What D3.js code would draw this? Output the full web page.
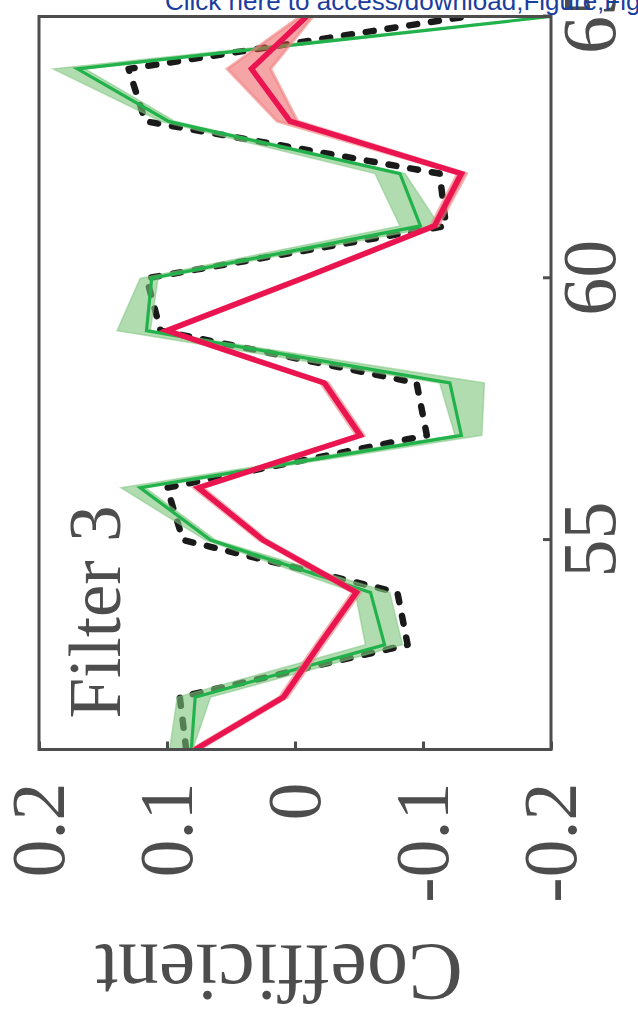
<!DOCTYPE html>
<html>
<head>
<meta charset="utf-8">
<script src="https://cdnjs.cloudflare.com/ajax/libs/d3/7.8.5/d3.min.js"></script>
<style>
  html, body { margin: 0; padding: 0; background: #fff; overflow: hidden; }
  svg { display: block; }
</style>
</head>
<body>
<svg id="chart" width="638" height="1014"></svg>
<script>
// filter taps shown in the panel
var positions = [51, 52, 53, 54, 55, 56, 57, 58, 59, 60, 61, 62, 63, 64, 65];

// reference filter (black dashed)
var target = [0.085, 0.090, -0.088, -0.080, 0.0875, 0.100, -0.103, -0.095, 0.105, 0.116, -0.118, -0.113, 0.117, 0.130, -0.134];

// green estimate: mean and spread of the runs
var greenMean = [0.081, 0.078, -0.070, -0.059, 0.066, 0.121, -0.130, -0.121, 0.116, 0.112, -0.098, -0.082, 0.099, 0.170, -0.200];
var greenHi = [0.098, 0.092, -0.055, -0.047, 0.070, 0.136, -0.125, -0.113, 0.139, 0.121, -0.082, -0.0625, 0.105, 0.189, -0.198];
var greenLo = [0.080, 0.066, -0.084, -0.074, 0.062, 0.117, -0.146, -0.148, 0.113, 0.107, -0.113, -0.086, 0.094, 0.164, -0.202];

// red estimate: mean and spread of the runs
var redMean = [0.078, 0.009, -0.019, -0.048, 0.025, 0.0755, -0.051, -0.023, 0.100, -0.006, -0.109, -0.130, 0.004, 0.034, -0.009];
var redHi = [0.081, 0.012, -0.016, -0.045, 0.028, 0.079, -0.048, -0.020, 0.103, -0.003, -0.106, -0.127, 0.014, 0.053, -0.004];
var redLo = [0.075, 0.006, -0.022, -0.051, 0.022, 0.072, -0.054, -0.026, 0.097, -0.009, -0.112, -0.134, -0.002, 0.019, -0.014];

var xTicks = [55, 60, 65];
var yTicks = [-0.2, -0.1, 0, 0.1, 0.2];
var yTickLabels = ["-0.2", "-0.1", "0", "0.1", "0.2"];
var panelTitle = "Filter 3";
var yTitle = "Coefficient";
var watermark = "Click here to access/download;Figure;Fig3.pdf";

var FONT = "'Liberation Serif', 'Times New Roman', serif";
var INK = "#4d4d4d";

var svg = d3.select("#chart");

// the whole figure is laid out upright (1014 wide, 638 high) and turned 90deg ccw
var fig = svg.append("g").attr("transform", "translate(0,1014) rotate(-90)");

var x = d3.scaleLinear().domain([51, 65]).range([264.5, 997.5]);
var y = d3.scaleLinear().domain([-0.2, 0.2]).range([551, 39]);

fig.append("clipPath").attr("id", "plotclip")
    .append("rect")
    .attr("x", x(51)).attr("y", y(0.2))
    .attr("width", x(65) - x(51)).attr("height", y(-0.2) - y(0.2));

var plot = fig.append("g").attr("clip-path", "url(#plotclip)");

function lineOf(vals) {
    return d3.line()
        .x(function (d, i) { return x(positions[i]); })
        .y(function (d) { return y(d); })(vals);
}

function bandOf(hi, lo) {
    return d3.area()
        .x(function (d, i) { return x(positions[i]); })
        .y0(function (d, i) { return y(lo[i]); })
        .y1(function (d, i) { return y(hi[i]); })(hi);
}

// reference (black dashed) goes below the bands
plot.append("path")
    .attr("d", lineOf(target))
    .attr("fill", "none")
    .attr("stroke", "#1a1a1a")
    .attr("stroke-width", 6.5)
    .attr("stroke-dasharray", "8,14")
    .attr("stroke-linecap", "round")
    .attr("stroke-linejoin", "round");

// green band + line
plot.append("path")
    .attr("d", bandOf(greenHi, greenLo))
    .attr("fill", "#7cc47c")
    .attr("fill-opacity", 0.6)
    .attr("stroke", "#7cc47c")
    .attr("stroke-opacity", 0.5)
    .attr("stroke-width", 1.5);

plot.append("path")
    .attr("d", lineOf(greenMean))
    .attr("fill", "none")
    .attr("stroke", "#21b24b")
    .attr("stroke-width", 3.2)
    .attr("stroke-linejoin", "miter");

// red band + line
plot.append("path")
    .attr("d", bandOf(redHi, redLo))
    .attr("fill", "#ec4c4c")
    .attr("fill-opacity", 0.5)
    .attr("stroke", "#f08080")
    .attr("stroke-opacity", 0.6)
    .attr("stroke-width", 3);

plot.append("path")
    .attr("d", lineOf(redMean))
    .attr("fill", "none")
    .attr("stroke", "#ea1450")
    .attr("stroke-width", 5.5)
    .attr("stroke-linejoin", "miter");

// axes (ticks inward, labels outside)
var xAxis = d3.axisBottom(x)
    .tickValues(xTicks)
    .tickSizeInner(-8)
    .tickSizeOuter(0)
    .tickPadding(10)
    .tickFormat(d3.format("d"));

var yAxis = d3.axisLeft(y)
    .tickValues(yTicks)
    .tickSizeInner(-8)
    .tickSizeOuter(0)
    .tickPadding(33)
    .tickFormat(function (d, i) { return yTickLabels[i]; });

var gx = fig.append("g").attr("transform", "translate(0," + y(-0.2) + ")").call(xAxis);
var gy = fig.append("g").attr("transform", "translate(" + x(51) + ",0)").call(yAxis);

[gx, gy].forEach(function (g) {
    g.select(".domain").remove();
    g.selectAll(".tick line").attr("stroke", INK).attr("stroke-width", 3);
    g.selectAll(".tick text")
        .attr("fill", INK)
        .style("font-family", FONT)
        .style("font-size", "76px");
});

// frame
fig.append("rect")
    .attr("x", x(51)).attr("y", y(0.2))
    .attr("width", x(65) - x(51)).attr("height", y(-0.2) - y(0.2))
    .attr("fill", "none")
    .attr("stroke", INK)
    .attr("stroke-width", 3);

// panel title
fig.append("text")
    .attr("x", x(51) + 31)
    .attr("y", 120)
    .attr("fill", INK)
    .style("font-family", FONT)
    .style("font-size", "73px")
    .text(panelTitle);

// y title
fig.append("text")
    .attr("transform", "translate(69,279) rotate(-90)")
    .attr("text-anchor", "middle")
    .attr("fill", INK)
    .style("font-family", FONT)
    .style("font-size", "82px")
    .text(yTitle);

// submission-system stamp across the top (not rotated)
svg.append("text")
    .attr("x", 165)
    .attr("y", 10)
    .attr("fill", "#1b3d9e")
    .style("font-family", "'Liberation Sans', Arial, sans-serif")
    .style("font-size", "26px")
    .text(watermark);
</script>
</body>
</html>
